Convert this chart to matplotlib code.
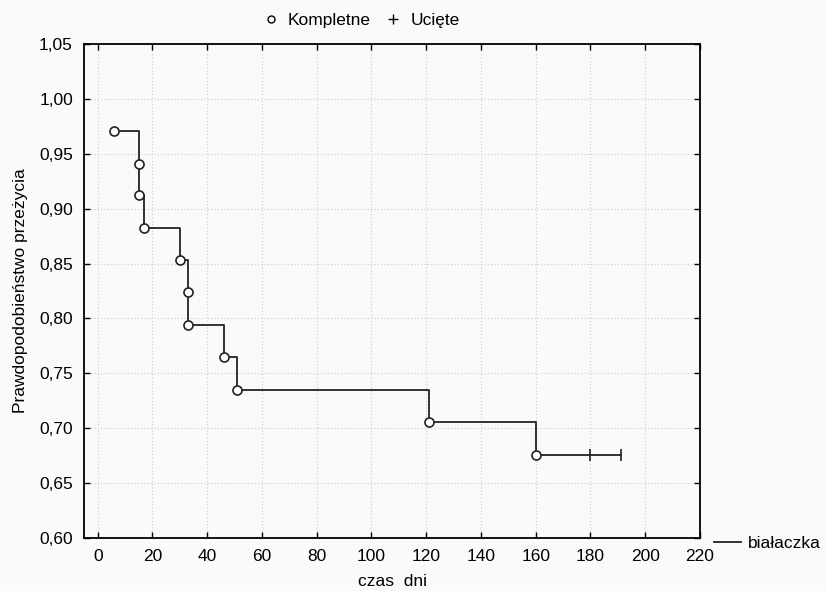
"""Kaplan-Meier survival curve (białaczka) with complete and censored observations."""
import matplotlib.pyplot as plt
import matplotlib.ticker as ticker
from matplotlib.lines import Line2D

plt.rcParams["font.family"] = ["Liberation Sans", "DejaVu Sans"]

# time (days) and survival probability at each observation
times = [6, 15, 15, 17, 30, 33, 33, 46, 51, 121, 160, 180, 191]
survival = [0.971, 0.941, 0.912, 0.882, 0.853, 0.824, 0.794,
            0.765, 0.735, 0.706, 0.676, 0.676, 0.676]
censored = [0, 0, 0, 0, 0, 0, 0, 0, 0, 0, 0, 1, 1]

x_ticks = list(range(0, 221, 20))
y_ticks = [0.60, 0.65, 0.70, 0.75, 0.80, 0.85, 0.90, 0.95, 1.00, 1.05]

bg = "#fafafa"
fig = plt.figure(figsize=(8.26, 5.91), dpi=100, facecolor=bg)
ax = fig.add_axes([84 / 826, 1 - 538 / 591, (700 - 84) / 826, (538 - 44) / 591])
ax.set_facecolor(bg)

line_color = "#222222"
curve, = ax.step(times, survival, where="post", color=line_color, lw=1.3, label="białaczka")

comp_x = [t for t, c in zip(times, censored) if not c]
comp_y = [s for s, c in zip(survival, censored) if not c]
cens_x = [t for t, c in zip(times, censored) if c]
cens_y = [s for s, c in zip(survival, censored) if c]
ax.plot(comp_x, comp_y, ls="none", marker="o", ms=6.5, mfc="white",
        mec=line_color, mew=1.2, zorder=3)
ax.plot(cens_x, cens_y, ls="none", marker="|", ms=9, mec=line_color, mew=1.2, zorder=3)

ax.set_xlim(-5, 220)
ax.set_ylim(0.60, 1.05)
ax.set_xticks(x_ticks)
ax.set_yticks(y_ticks)
ax.yaxis.set_major_formatter(ticker.FuncFormatter(lambda v, _: f"{v:.2f}".replace(".", ",")))
ax.tick_params(direction="in", length=4, width=1, top=True, right=True,
               labelsize=12.5, pad=8, colors="black")
ax.grid(True, ls=(0, (1, 2)), color="#cccccc", lw=0.8)
for sp in ax.spines.values():
    sp.set_linewidth(1.3)

ax.set_xlabel("czas  dni", fontsize=12.5, labelpad=7)
ax.set_ylabel("Prawdopodobieństwo przeżycia", fontsize=12.5, labelpad=8)

# legend of observation types at the top
h_comp = Line2D([], [], ls="none", marker="o", ms=5, mfc="white", mec="black", mew=1)
h_cens = Line2D([], [], ls="none", marker="+", ms=7, mec="black", mew=1)
fig.legend([h_comp, h_cens], ["Kompletne", "Ucięte"], loc="center",
           bbox_to_anchor=(0.437, 1 - 20 / 591), ncol=2, frameon=False,
           fontsize=12.5, handlelength=1, handletextpad=0.5, columnspacing=0.8)

# series legend at the bottom right
fig.legend([curve], ["białaczka"], loc="center left",
           bbox_to_anchor=(705 / 826, 1 - 543 / 591), frameon=False,
           fontsize=12.5, handlelength=1.6, handletextpad=0.35, borderpad=0)

fig.savefig("out.png", dpi=100, facecolor=bg)
